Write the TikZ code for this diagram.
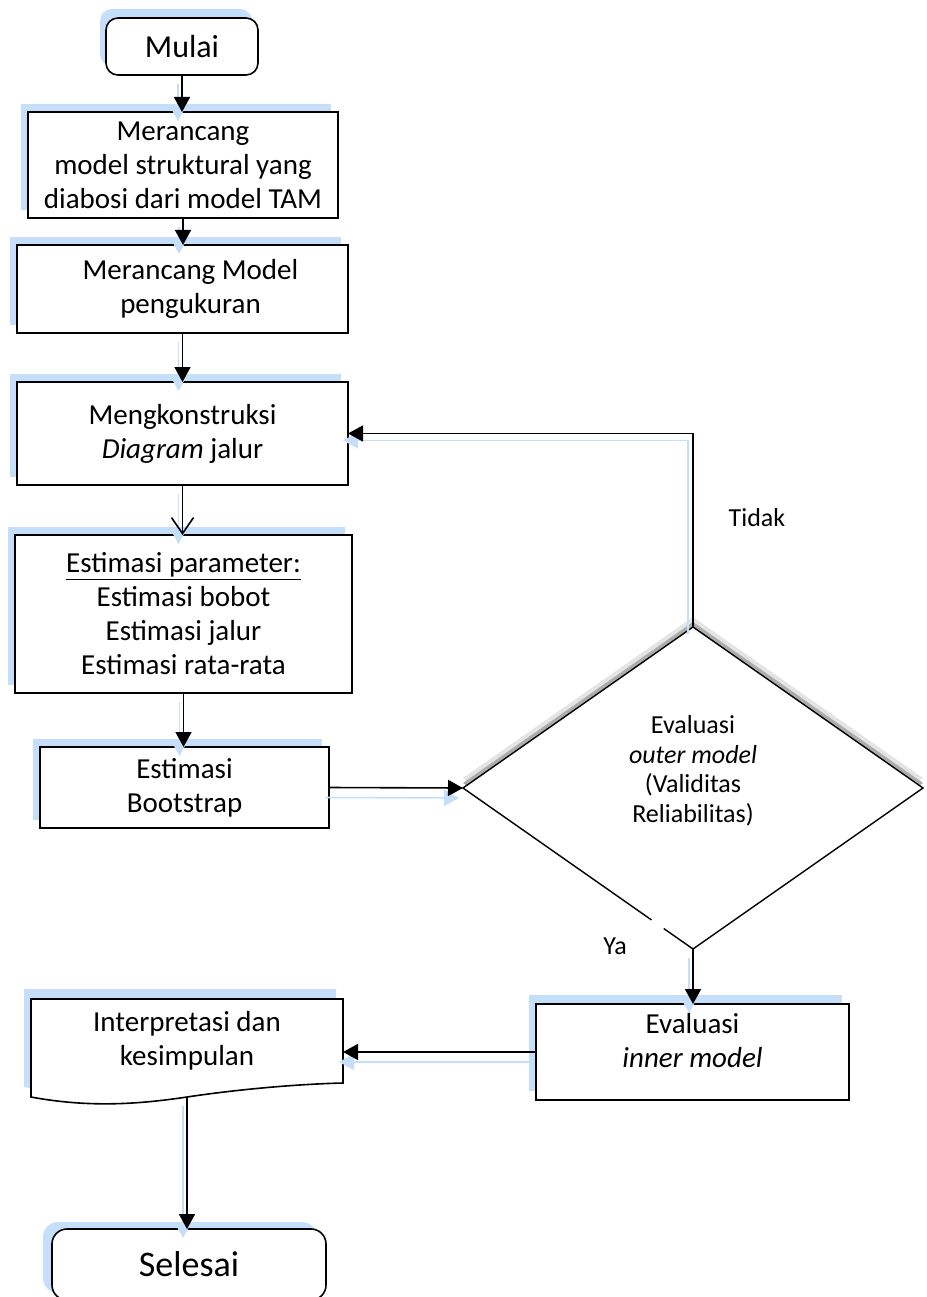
\documentclass[tikz,border=0pt]{standalone}
\usepackage{fontspec}
\setmainfont{Carlito}
\usetikzlibrary{arrows.meta,shapes.geometric,backgrounds}
\definecolor{bsh}{HTML}{C5DEFA}
\definecolor{gshA}{HTML}{E4E4E4}
\definecolor{gshB}{HTML}{ACACAC}
\tikzset{
  box/.style={draw, line width=1.6pt, fill=white, align=center, inner sep=0pt, outer sep=0pt,
              font=\fontsize{29}{34}\selectfont},
  txt/.style={align=center, inner sep=0pt, font=\fontsize{29}{34}\selectfont},
  lbl/.style={inner sep=0pt, font=\fontsize{26}{30}\selectfont},
  arr/.style={line width=1.6pt, -{Triangle[length=15pt,width=16pt]}},
  oarr/.style={line width=1.6pt, -{Straight Barb[length=16pt,width=22pt]}},
  sharr/.style={draw=bsh, line width=1.6pt, -{Triangle[length=15pt,width=16pt]}},
  vsh/.style={transform canvas={xshift=-4pt,yshift=-9pt}},
  hsh/.style={transform canvas={xshift=-4pt,yshift=-10pt}},
}
\begin{document}
\begin{tikzpicture}[x=1pt,y=-1pt]
\useasboundingbox (0,0) rectangle (926,1297);
\clip (0,0) rectangle (926,1297);

% start
\node[box, rounded corners=12pt, minimum width=152pt, minimum height=57pt,
      font=\fontsize{32}{38}\selectfont] (mulai) at (182,46.5) {Mulai};

\node[box, minimum width=310pt, minimum height=106pt] (b1) at (183,165)
  {Merancang\\ model struktural yang\\diabosi dari model TAM};
\node[box, minimum width=331pt, minimum height=88pt] (b2) at (182.5,289)
  {\hspace*{16pt}Merancang Model\\\hspace*{16pt}pengukuran};
\node[box, minimum width=331pt, minimum height=103pt] (b3) at (182.5,433.5)
  {Mengkonstruksi\\\textit{Diagram} jalur};
\node[box, minimum width=337pt, minimum height=158pt] (b4) at (183.5,614)
  {\underline{Estimasi parameter:}\\Estimasi bobot\\Estimasi jalur\\Estimasi rata-rata};
\node[box, minimum width=289pt, minimum height=81pt] (b5) at (184.5,787.5)
  {Estimasi\\Bootstrap};

% decision
\node[diamond, draw, line width=1.4pt, fill=white, minimum width=460pt, minimum height=322pt,
      inner sep=0pt, outer sep=0pt] (dia) at (693,788) {};
\node[txt, font=\fontsize{26}{29.5}\selectfont] (diat) at (693,771)
  {Evaluasi\\\textit{outer model}\\(Validitas\\Reliabilitas)};
\draw[white, line width=4pt] (652,919.5) -- (664,928);

% inner model
\node[box, minimum width=313pt, minimum height=96pt] (b6) at (692.5,1052) {};
\node[txt] (b6t) at (692.5,1041) {Evaluasi\\\textit{inner model}};

% document
\node[inner sep=0pt, outer sep=0pt, minimum width=312pt, minimum height=98pt] (doc) at (187,1048) {};
\draw[line width=1.6pt, fill=white]
  (31,999) -- (343,999) -- (343,1083) .. controls (300,1084) and (240,1089) .. (187,1097)
  .. controls (140,1104) and (90,1108) .. (31,1097) -- cycle;
\node[txt] (doct) at (187,1041) {Interpretasi dan\\kesimpulan};

% end
\node[box, rounded corners=15pt, minimum width=274pt, minimum height=71pt,
      font=\fontsize{36}{42}\selectfont] (sel) at (189,1264.5) {Selesai};

% shadows behind the shapes
\begin{pgfonlayer}{background}
  \fill[bsh, rounded corners=12pt] ([shift={(-6,-9)}]mulai.north west) rectangle ([shift={(-6,-9)}]mulai.south east);
  \foreach \n in {b1,b2,b3,b4,b5}
    \fill[bsh] ([shift={(-7,-8)}]\n.north west) rectangle ([shift={(-7,-8)}]\n.south east);
  \fill[bsh] ([shift={(-7,-9)}]b6.north west) rectangle ([shift={(-7,-9)}]b6.south east);
  \fill[bsh, rounded corners=15pt] ([shift={(-9,-7)}]sel.north west) rectangle ([shift={(-9,-7)}]sel.south east);
  \fill[bsh, transform canvas={xshift=-7pt,yshift=10pt}]
    (31,999) -- (343,999) -- (343,1083) .. controls (300,1084) and (240,1089) .. (187,1097)
    .. controls (140,1104) and (90,1108) .. (31,1097) -- cycle;
  \fill[gshA] ([yshift=10pt]dia.west) -- ([yshift=10pt]dia.north) -- ([yshift=10pt]dia.east)
    -- ([yshift=10pt]dia.south) -- cycle;
  \fill[gshB] ([yshift=5pt]dia.west) -- ([yshift=5pt]dia.north) -- ([yshift=5pt]dia.east)
    -- ([yshift=5pt]dia.south) -- cycle;
\end{pgfonlayer}

% blue connector shadows
\draw[sharr, vsh] (mulai.south) -- (mulai.south |- b1.north);
\draw[sharr, vsh] (b1.south) -- (b1.south |- b2.north);
\draw[sharr, vsh] (b2.south) -- (b2.south |- b3.north);
\draw[sharr, vsh] (b3.south) -- (b3.south |- b4.north);
\draw[sharr, vsh] (b4.south) -- (b4.south |- b5.north);
\draw[sharr, hsh] (b5.east) -- (dia.west);
\draw[sharr, transform canvas={xshift=-5pt,yshift=-7pt}] (dia.north) |- (b3.east);
\draw[sharr, vsh] (dia.south) -- (dia.south |- b6.north);
\draw[sharr, hsh] (b6.west) -- (b6.west -| doc.east);
\draw[sharr, vsh] (doc.south) -- (doc.south |- sel.north);

% connectors
\draw[arr] (mulai.south) -- (mulai.south |- b1.north);
\draw[arr] (b1.south) -- (b1.south |- b2.north);
\draw[arr] (b2.south) -- (b2.south |- b3.north);
\draw[oarr] (b3.south) -- (b3.south |- b4.north);
\draw[arr] (b4.south) -- (b4.south |- b5.north);
\draw[arr] (b5.east) -- (dia.west);
\draw[arr] (dia.north) |- (b3.east);
\draw[arr] (dia.south) -- (dia.south |- b6.north);
\draw[arr] (b6.west) -- (b6.west -| doc.east);
\draw[arr] (doc.south) -- (doc.south |- sel.north);

\node[lbl] (tidak) at (757,518) {Tidak};
\node[lbl] (ya) at (615,946) {Ya};
\end{tikzpicture}
\end{document}
